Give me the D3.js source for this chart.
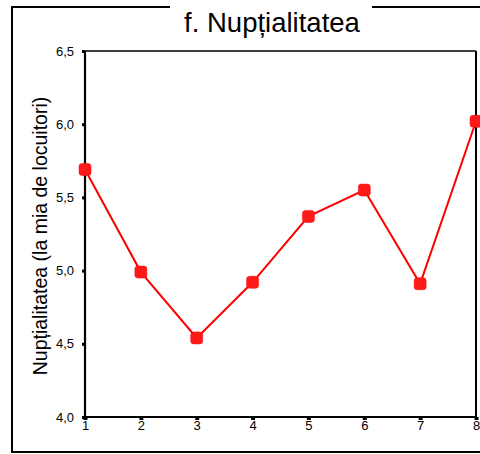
<!DOCTYPE html>
<html><head><meta charset="utf-8">
<script src="https://cdn.jsdelivr.net/npm/d3@7"></script>
<style>html,body{margin:0;padding:0;background:#fff;}svg{display:block;}</style>
</head><body>
<script>
const categories = [1, 2, 3, 4, 5, 6, 7, 8];
const values = [5.69, 4.99, 4.54, 4.92, 5.37, 5.55, 4.91, 6.02];
const yTicks = [4.0, 4.5, 5.0, 5.5, 6.0, 6.5];
const title = "f. Nupțialitatea";
const yTitle = "Nupțialitatea (la mia de locuitori)";

const W = 480, H = 454;
const svg = d3.select("body").append("svg").attr("width", W).attr("height", H);
const font = "Arial, 'Liberation Sans', sans-serif";

// outer frame
svg.append("rect").attr("x", 12).attr("y", 7).attr("width", 480).attr("height", 445)
  .attr("fill", "none").attr("stroke", "#000").attr("stroke-width", 2);

const x = d3.scaleLinear().domain([1, 8]).range([85, 476]);
const y = d3.scaleLinear().domain([4, 6.5]).range([417, 51]);

// plot frame top/right
svg.append("line").attr("x1", 85).attr("x2", 476).attr("y1", 51).attr("y2", 51).attr("stroke", "#000").attr("stroke-width", 1.5);
svg.append("line").attr("x1", 476).attr("x2", 476).attr("y1", 51).attr("y2", 417).attr("stroke", "#000").attr("stroke-width", 2);

// y axis
const yAxis = svg.append("g").attr("transform", "translate(85,0)")
  .call(d3.axisLeft(y).tickValues(yTicks).tickSize(3).tickPadding(8)
    .tickFormat(d => d3.format(".1f")(d).replace(".", ",")));
yAxis.attr("font-size", 13).attr("font-family", font);
yAxis.select(".domain").attr("stroke-width", 2.2).attr("d", "M0," + y(4) + "V" + y(6.5));
yAxis.selectAll(".tick line").attr("stroke-width", 3);
yAxis.selectAll("text").attr("font-family", font).attr("font-size", 13).attr("fill", "#000");

// x axis
const xAxis = svg.append("g").attr("transform", "translate(0,417)")
  .call(d3.axisBottom(x).tickValues(categories).tickSize(3).tickPadding(1).tickFormat(d3.format("d")));
xAxis.attr("font-size", 13).attr("font-family", font);
xAxis.select(".domain").attr("stroke-width", 2.2).attr("d", "M" + x(1) + ",0H" + x(8));
xAxis.selectAll(".tick line").attr("stroke-width", 4);
xAxis.selectAll("text").attr("font-family", font).attr("font-size", 13).attr("fill", "#000");

// line
const line = d3.line().x((d, i) => x(categories[i])).y(d => y(d));
svg.append("path").datum(values).attr("d", line).attr("fill", "none")
  .attr("stroke", "#ff0000").attr("stroke-width", 2);

// markers
svg.selectAll(".mk").data(values).enter().append("rect").attr("class", "mk")
  .attr("x", (d, i) => x(categories[i]) - 6).attr("y", d => y(d) - 6)
  .attr("width", 12).attr("height", 12).attr("rx", 3)
  .attr("fill", "#ff1a1a").attr("stroke", "#ff0000").attr("stroke-width", 0.5);

// title with white background
svg.append("rect").attr("x", 170).attr("y", 0).attr("width", 202).attr("height", 14).attr("fill", "#fff");
svg.append("text").attr("x", 272).attr("y", 32).attr("text-anchor", "middle")
  .attr("font-family", font).attr("font-size", 27.5).attr("fill", "#000").text(title);

// y title
svg.append("text").attr("transform", "translate(47,236) rotate(-90)").attr("text-anchor", "middle")
  .attr("font-family", font).attr("font-size", 19.5).attr("fill", "#000").text(yTitle);
</script>
</body></html>
